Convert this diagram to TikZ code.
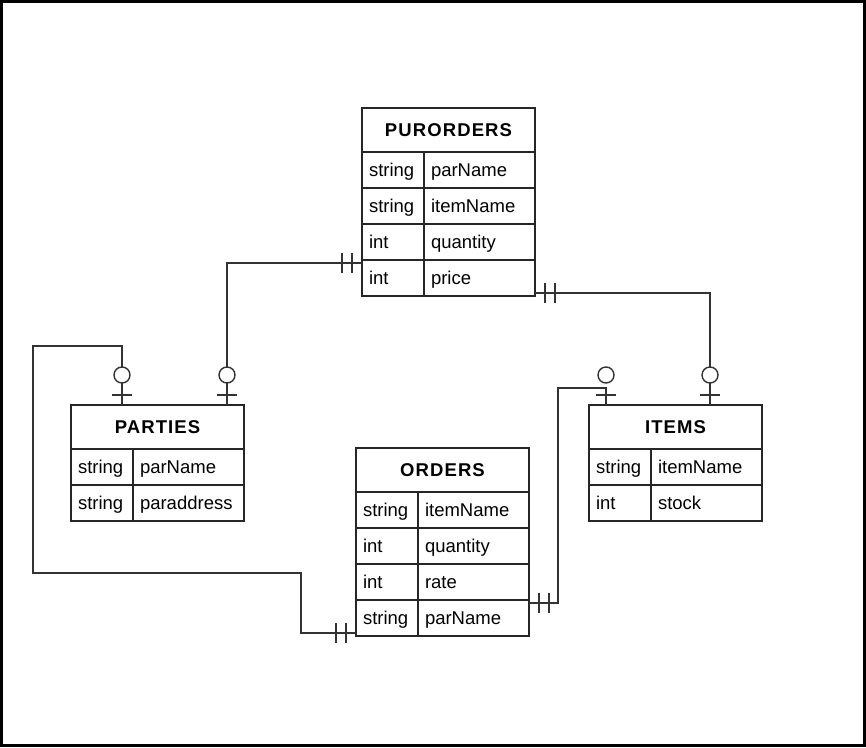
\documentclass[tikz,border=0pt]{standalone}
\usepackage{fontspec}
\setmainfont{Liberation Sans}
\usetikzlibrary{calc}

\begin{document}
\begin{tikzpicture}[x=1pt,y=-1pt]
	\tikzstyle{every node}=[font=\fontsize{18.5pt}{22pt}\selectfont]
	\tikzstyle{title}=[draw=black!85,line width=1.4pt,minimum width=173pt,minimum height=44pt,inner sep=0pt,outer sep=0pt,anchor=north west,text height=14pt,text depth=2pt,font=\fontsize{18.5pt}{22pt}\selectfont\bfseries\addfontfeatures{LetterSpace=6}]
	\tikzstyle{type}=[draw=black!85,line width=1.4pt,text width=48pt,minimum height=36pt,inner xsep=7pt,inner ysep=0pt,outer sep=0pt,anchor=north west,align=left,text height=14pt,text depth=2pt]
	\tikzstyle{field}=[type,text width=97pt]
	\tikzstyle{link}=[draw=black!80,line width=1.4pt]
	\tikzstyle{ring}=[link,fill=white]

	\useasboundingbox (0,0) rectangle (866,747);
	\draw[line width=2.6pt] (1.3,1.3) rectangle (864.5,745.3);

	% PURORDERS
	\node[title] (pur) at (362,108) {PURORDERS};
	\node[type] (pur1t) at (pur.south west) {string};
	\node[field] (pur1n) at (pur1t.north east) {parName};
	\node[type] (pur2t) at (pur1t.south west) {string};
	\node[field] (pur2n) at (pur2t.north east) {itemName};
	\node[type] (pur3t) at (pur2t.south west) {int};
	\node[field] (pur3n) at (pur3t.north east) {quantity};
	\node[type] (pur4t) at (pur3t.south west) {int};
	\node[field] (pur4n) at (pur4t.north east) {price};

	% PARTIES
	\node[title] (pa) at (71,405) {PARTIES};
	\node[type] (pa1t) at (pa.south west) {string};
	\node[field] (pa1n) at (pa1t.north east) {parName};
	\node[type] (pa2t) at (pa1t.south west) {string};
	\node[field] (pa2n) at (pa2t.north east) {paraddress};

	% ITEMS
	\node[title] (it) at (589,405) {ITEMS};
	\node[type] (it1t) at (it.south west) {string};
	\node[field] (it1n) at (it1t.north east) {itemName};
	\node[type] (it2t) at (it1t.south west) {int};
	\node[field] (it2n) at (it2t.north east) {stock};

	% ORDERS
	\node[title] (or) at (356,448) {ORDERS};
	\node[type] (or1t) at (or.south west) {string};
	\node[field] (or1n) at (or1t.north east) {itemName};
	\node[type] (or2t) at (or1t.south west) {int};
	\node[field] (or2n) at (or2t.north east) {quantity};
	\node[type] (or3t) at (or2t.south west) {int};
	\node[field] (or3n) at (or3t.north east) {rate};
	\node[type] (or4t) at (or3t.south west) {string};
	\node[field] (or4n) at (or4t.north east) {parName};

	% connector ends
	\coordinate (pa-a) at ($(pa.north west)+(51,0)$);
	\coordinate (pa-b) at ($(pa.north west)+(156,0)$);
	\coordinate (it-a) at ($(it.north west)+(17,0)$);
	\coordinate (it-b) at ($(it.north west)+(121,0)$);
	\coordinate (pur-l) at ($(pur4t.north west)+(0,3)$);
	\coordinate (pur-r) at ($(pur4n.south east)+(0,-3)$);
	\coordinate (or-l) at ($(or4t.south west)+(0,-3)$);
	\coordinate (or-r) at ($(or4n.north east)+(0,3)$);

	\draw[link] (pa-b) |- (pur-l);
	\draw[link] (pa-a) |- (33,346) |- (301,573) |- (or-l);
	\draw[link] (pur-r) -| (it-b);
	\draw[link] (or-r) -| (558,388) -| (it-a);

	% zero or one
	\foreach \p in {pa-a,pa-b,it-a,it-b} {
		\draw[link] ($(\p)+(-10,-10)$) -- ++(20,0);
		\draw[ring] ($(\p)+(0,-30)$) circle (8pt);
	}
	% exactly one
	\foreach \p in {pur-l,or-l}
		\draw[link] ($(\p)+(-10,-10)$) -- ++(0,20) ($(\p)+(-20,-10)$) -- ++(0,20);
	\foreach \p in {pur-r,or-r}
		\draw[link] ($(\p)+(10,-10)$) -- ++(0,20) ($(\p)+(20,-10)$) -- ++(0,20);
\end{tikzpicture}
\end{document}
